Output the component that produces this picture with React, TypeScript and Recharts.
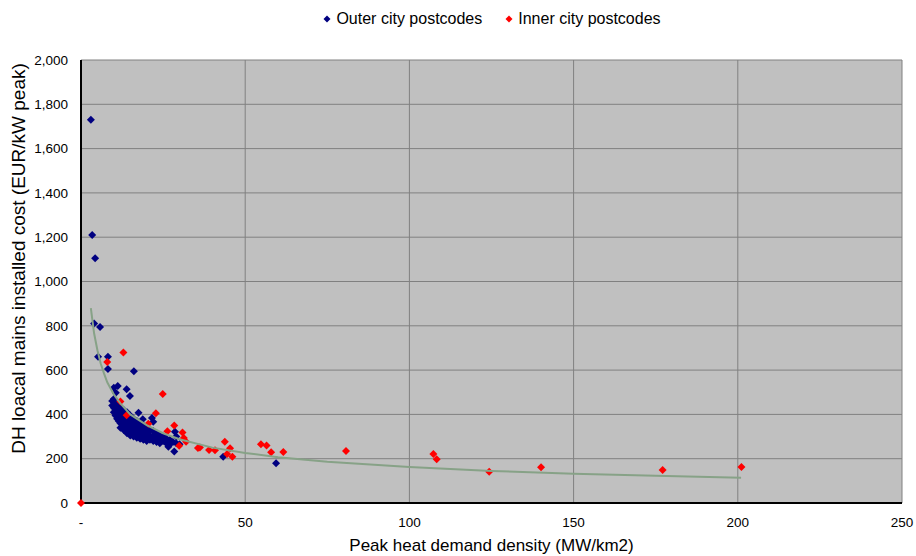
import React from "react";
import {
  ScatterChart,
  Scatter,
  XAxis,
  YAxis,
  ZAxis,
  CartesianGrid,
  Legend,
  Label,
} from "recharts";

// Outer city postcodes: [peak heat demand density MW/km2, cost EUR/kW peak]
const outerPoints: [number, number][] = [
  [3.0, 1730], [3.4, 1210], [4.3, 1105], [4.0, 810], [5.8, 795],
  [5.2, 660], [8.2, 660], [8.2, 605], [16.1, 595], [11.2, 528],
  [10.0, 520], [13.9, 513], [14.9, 483], [10.6, 498], [17.5, 408],
  [18.8, 378], [22.0, 367], [21.6, 384], [28.6, 322], [26.6, 254],
  [28.4, 232], [43.3, 209], [59.4, 179],
  [9.5, 460], [9.5, 440],
  [10.0, 470], [10.0, 430], [10.0, 410],
  [10.5, 450], [10.5, 420], [10.5, 395],
  [11.0, 440], [11.0, 405], [11.0, 380],
  [11.5, 425], [11.5, 395], [11.5, 370],
  [12.0, 430], [12.0, 400], [12.0, 360], [12.0, 340],
  [12.5, 410], [12.5, 375], [12.5, 345],
  [13.0, 420], [13.0, 390], [13.0, 355], [13.0, 330],
  [13.5, 400], [13.5, 365], [13.5, 335],
  [14.0, 410], [14.0, 375], [14.0, 345], [14.0, 315],
  [14.5, 385], [14.5, 350], [14.5, 320],
  [15.0, 395], [15.0, 365], [15.0, 335], [15.0, 305],
  [15.5, 370], [15.5, 340], [15.5, 310],
  [16.0, 380], [16.0, 350], [16.0, 320], [16.0, 300],
  [16.5, 360], [16.5, 330], [16.5, 305],
  [17.0, 370], [17.0, 340], [17.0, 315], [17.0, 295],
  [17.5, 350], [17.5, 320], [17.5, 300],
  [18.0, 360], [18.0, 330], [18.0, 305], [18.0, 290],
  [18.5, 340], [18.5, 315], [18.5, 295],
  [19.0, 350], [19.0, 325], [19.0, 300], [19.0, 285],
  [19.5, 335], [19.5, 305], [19.5, 290],
  [20.0, 345], [20.0, 320], [20.0, 295], [20.0, 280],
  [21.0, 330], [21.0, 305], [21.0, 285],
  [22.0, 325], [22.0, 300], [22.0, 280],
  [23.0, 315], [23.0, 290], [23.0, 275],
  [24.0, 305], [24.0, 285], [24.0, 270],
  [25.0, 300], [25.0, 280],
  [26.0, 290], [26.0, 270],
  [27.0, 285], [27.0, 265],
  [28.0, 275], [29.0, 300], [29.0, 270], [30.0, 265],
];

// Inner city postcodes
const innerPoints: [number, number][] = [
  [0, 0], [8.0, 637], [12.9, 680], [24.9, 492], [12.0, 458],
  [13.9, 396], [22.8, 405], [20.5, 358], [28.4, 350], [26.3, 324],
  [30.9, 318], [31.3, 294], [29.9, 259], [32.0, 276], [35.6, 248],
  [39.0, 239], [40.8, 238], [43.8, 277], [45.4, 247], [44.5, 221],
  [46.1, 209], [36.2, 251], [54.8, 265], [56.5, 260], [57.9, 229],
  [61.6, 230], [80.7, 235], [107.3, 221], [108.3, 197], [124.3, 141],
  [140.1, 161], [177.1, 149], [201.1, 163],
];

// Fitted trendline
const trendPoints: [number, number][] = [
  [3, 880], [4, 765], [5, 690], [6, 630], [7, 585], [8, 545],
  [10, 490], [12, 450], [15, 400], [20, 352], [25, 315], [30, 288],
  [40, 250], [50, 226], [60, 207], [75, 186], [100, 162], [125, 145],
  [150, 132], [175, 123], [201, 114],
];

const xTicks = [0, 50, 100, 150, 200, 250];
const yTicks = [0, 200, 400, 600, 800, 1000, 1200, 1400, 1600, 1800, 2000];

const seriesNames = ["Outer city postcodes", "Inner city postcodes"];
const seriesColors = ["#000080", "#FF0000"];

const toXY = (pts: [number, number][]) => pts.map(([x, y]) => ({ x, y }));

const FONT = "'Liberation Sans', Arial, sans-serif";

const Diamond = (props: any) => {
  const { cx, cy, fill } = props;
  if (cx == null || cy == null) return null;
  const r = 4;
  return (
    <path
      d={`M${cx},${cy - r}L${cx + r},${cy}L${cx},${cy + r}L${cx - r},${cy}Z`}
      fill={fill}
    />
  );
};

const LegendContent = () => (
  <div
    style={{
      display: "flex",
      justifyContent: "center",
      alignItems: "center",
      fontFamily: FONT,
      fontSize: 16,
      color: "#000",
      gap: 22,
    }}
  >
    {seriesNames.map((name, i) => (
      <span key={name} style={{ display: "flex", alignItems: "center" }}>
        <svg width={10} height={10} style={{ marginRight: 4 }}>
          <path d="M5,1.5L8.5,5L5,8.5L1.5,5Z" fill={seriesColors[i]} />
        </svg>
        {name}
      </span>
    ))}
  </div>
);

export default function App() {
  return (
    <div style={{ position: "absolute", left: 0, top: 0, width: 916, height: 556 }}>
      <ScatterChart
        width={916}
        height={556}
        margin={{ top: 60, right: 14, bottom: 0, left: 21 }}
        style={{ fontFamily: FONT }}
      >
        <CartesianGrid stroke="#808080" fill="#C0C0C0" strokeWidth={1} />
        <XAxis
          type="number"
          dataKey="x"
          domain={[0, 250]}
          ticks={xTicks}
          height={53}
          tickSize={0}
          tickMargin={14}
          axisLine={{ stroke: "#000", strokeWidth: 2 }}
          tick={{ fill: "#000", fontSize: 13.5, fontFamily: FONT }}
          tickFormatter={(v: number) => (v === 0 ? "-" : String(v))}
        >
          <Label
            value="Peak heat demand density (MW/km2)"
            position="insideBottom"
            offset={5}
            style={{ fontSize: 17, fill: "#000", fontFamily: FONT }}
          />
        </XAxis>
        <YAxis
          type="number"
          dataKey="y"
          domain={[0, 2000]}
          ticks={yTicks}
          width={60}
          tickSize={0}
          tickMargin={13}
          axisLine={{ stroke: "#000", strokeWidth: 2 }}
          tick={{ fill: "#000", fontSize: 13.5, fontFamily: FONT }}
          tickFormatter={(v: number) => v.toLocaleString("en-US")}
        >
          <Label
            content={(p: any) => {
              const vb = p.viewBox || {};
              const x = (vb.x ?? 21) - 3;
              const y = (vb.y ?? 60) + (vb.height ?? 443) / 2 - 23;
              return (
                <text
                  x={x}
                  y={y}
                  transform={`rotate(-90 ${x} ${y})`}
                  textAnchor="middle"
                  dominantBaseline="central"
                  style={{ fontSize: 19, fill: "#000", fontFamily: FONT }}
                >
                  DH loacal mains installed cost (EUR/kW peak)
                </text>
              );
            }}
          />
        </YAxis>
        <ZAxis range={[40, 40]} />
        <Legend
          layout="horizontal"
          verticalAlign="middle"
          content={<LegendContent />}
          wrapperStyle={{ position: "absolute", top: 10, left: 81, width: 821 }}
        />
        <Scatter
          name={seriesNames[0]}
          data={toXY(outerPoints)}
          fill={seriesColors[0]}
          shape={<Diamond />}
          isAnimationActive={false}
        />
        <Scatter
          name={seriesNames[1]}
          data={toXY(innerPoints)}
          fill={seriesColors[1]}
          shape={<Diamond />}
          isAnimationActive={false}
        />
        <Scatter
          name="Trend"
          data={toXY(trendPoints)}
          line={{ stroke: "#87A287", strokeWidth: 2 }}
          lineType="joint"
          shape={() => <g />}
          legendType="none"
          isAnimationActive={false}
        />
      </ScatterChart>
    </div>
  );
}
